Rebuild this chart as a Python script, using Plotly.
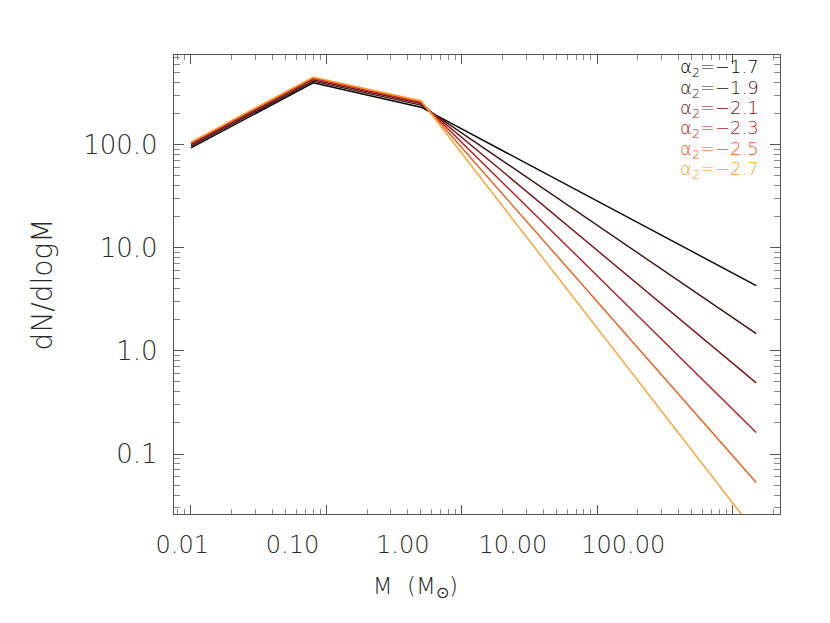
import numpy as np
import plotly.graph_objects as go

# Mass grid points (broken power law knots), in solar masses
mass = [0.01, 0.08, 0.5, 150.0]

alpha2_labels = ["-1.7", "-1.9", "-2.1", "-2.3", "-2.5", "-2.7"]
series = {
    "-1.7": [93.0, 398.0, 231.0, 4.3],
    "-1.9": [97.0, 413.0, 242.0, 1.47],
    "-2.1": [100.0, 427.0, 251.0, 0.49],
    "-2.3": [103.0, 440.0, 258.0, 0.162],
    "-2.5": [105.0, 448.0, 264.0, 0.053],
    "-2.7": [106.0, 452.0, 267.0, 0.017],
}
colors = ["#000000", "#3c1010", "#7a1414", "#b81c24", "#f05a18", "#ffa030"]

x_tick_vals = [0.01, 0.1, 1, 10, 100]
x_tick_text = ["0.01", "0.10", "1.00", "10.00", "100.00"]
y_tick_vals = [0.1, 1, 10, 100]
y_tick_text = ["0.1", "1.0", "10.0", "100.0"]

FONT = "DejaVu Sans"
W = 200
TXT = "#2a2a2a"
AX = "#555555"

fig = go.Figure()
# empty trace hosting the separate label axis (drawn first, underneath)
fig.add_trace(go.Scatter(x=[], y=[], xaxis="x2", yaxis="y2",
                         showlegend=False, hoverinfo="skip"))
for lab, col in zip(alpha2_labels, colors):
    fig.add_trace(go.Scatter(x=mass, y=series[lab], mode="lines",
                             line=dict(color=col, width=1.4),
                             showlegend=False, hoverinfo="skip"))

xr = [-2.1256, 2.3537]
yr = [-1.582, 2.870]

fig.update_layout(
    width=830, height=623,
    margin=dict(l=143, r=40, t=47.3, b=116.7),
    paper_bgcolor="white", plot_bgcolor="rgba(0,0,0,0)",
    xaxis=dict(type="log", range=xr, domain=[0.0355, 0.9726], anchor="y",
               tickvals=x_tick_vals, showticklabels=False,
               ticks="inside", ticklen=9, tickcolor=AX, tickwidth=1,
               minor=dict(ticks="inside", ticklen=5, dtick="D1", tickcolor="#888888"),
               showline=True, linecolor=AX, linewidth=1.3, mirror="ticks",
               showgrid=False, zeroline=False),
    yaxis=dict(type="log", range=yr, anchor="x", domain=[0, 1],
               tickvals=y_tick_vals, ticktext=y_tick_text,
               ticks="inside", ticklen=10, tickcolor=AX, tickwidth=1,
               minor=dict(ticks="inside", ticklen=6, dtick="D1", tickcolor="#888888"),
               ticklabelstandoff=10,
               tickfont=dict(family=FONT, size=26, color=TXT, weight=W),
               showline=True, linecolor=AX, linewidth=1.3, mirror="ticks",
               showgrid=False, zeroline=False,
               title=dict(text="dN/dlogM", standoff=22,
                          font=dict(family=FONT, size=28, color=TXT, weight=W))),
    xaxis2=dict(type="log", range=xr, domain=[0.0269, 0.7901], anchor="y2",
                tickvals=x_tick_vals, ticktext=x_tick_text, ticks="",
                ticklabelstandoff=14,
                tickfont=dict(family=FONT, size=24, color=TXT, weight=W),
                showline=False, showgrid=False, zeroline=False,
                title=dict(text="M  (M<sub>⊙</sub>)", standoff=19,
                           font=dict(family=FONT, size=23, color=TXT, weight=W))),
    yaxis2=dict(anchor="x2", domain=[0, 1], range=[0, 1], visible=False,
                showgrid=False, zeroline=False),
)

# legend-like labels, top right inside the frame
row_px = [67, 88, 108, 128, 149, 169]
for lab, col, py in zip(alpha2_labels, colors, row_px):
    fig.add_annotation(xref="paper", yref="paper",
                       x=0.9435, y=(513.3 - py) / 459.0,
                       xanchor="right", yanchor="middle", showarrow=False,
                       text="α<sub>2</sub>=−" + lab.lstrip("-"),
                       font=dict(family=FONT, size=18, color=col, weight=W))

fig.write_html("out.html")
